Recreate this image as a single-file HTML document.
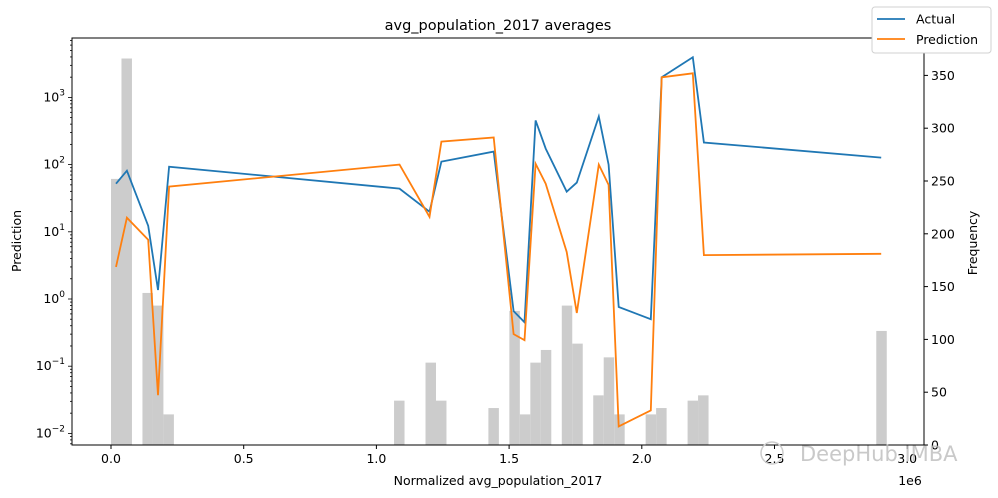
<!DOCTYPE html>
<html><head><meta charset="utf-8">
<style>
html,body{margin:0;padding:0;background:#fff;}
svg{display:block;font-family:"DejaVu Sans","Liberation Sans",sans-serif;}
</style></head>
<body>
<svg id="chart" width="998" height="498" viewBox="0 0 998 498" xmlns="http://www.w3.org/2000/svg">
<rect width="998" height="498" fill="#fff"/>
<text x="498" y="30" font-size="14.5" text-anchor="middle">avg_population_2017 averages</text>
<g id="hist"></g>
<g id="lines"></g>
<g id="axes"></g>
<text x="498" y="485" font-size="12.5" text-anchor="middle">Normalized avg_population_2017</text>
<text x="910" y="485" font-size="12.5" text-anchor="middle">1e6</text>
<text transform="translate(21,241) rotate(-90)" font-size="12.5" text-anchor="middle">Prediction</text>
<text transform="translate(977,243) rotate(-90)" font-size="12.5" text-anchor="middle">Frequency</text>
<text x="800" y="461" font-size="21" fill="#bbb" fill-opacity="0.8">DeepHub IMBA</text>
<circle cx="772" cy="453" r="11" fill="none" stroke="#ccc" stroke-width="1.5"/>
<g>
<rect x="872" y="7" width="119" height="46" rx="3" fill="#fff" stroke="#ccc" stroke-opacity="0.9"/>
<line x1="877" y1="19" x2="905" y2="19" stroke="#1f77b4" stroke-width="1.8"/>
<text x="916" y="23.5" font-size="12.5">Actual</text>
<line x1="877" y1="39" x2="905" y2="39" stroke="#ff7f0e" stroke-width="1.8"/>
<text x="916" y="44" font-size="12.5">Prediction</text>
</g>
</svg>
<script>
// data (x in units of 1e6)
const xs = [0.019,0.060,0.140,0.177,0.219,1.087,1.200,1.245,1.442,1.517,1.558,1.600,1.638,1.717,1.755,1.838,1.875,1.913,2.034,2.075,2.192,2.234,2.902];
const actual = [52,81,12.3,1.36,93,44,19.9,111,156,0.66,0.45,454,173,39.5,54,520,100,0.76,0.50,1990,3950,213,127];
const prediction = [3.0,16.2,7.6,0.037,47,100,16.7,220,253,0.30,0.244,103,52,5.0,0.62,100,50,0.0127,0.022,1990,2280,4.5,4.7];
const binWidth = 0.0395;
const binIndex = [0,1,3,4,5,27,30,31,36,38,39,40,41,43,44,46,47,48,51,52,55,56,73];
const binCounts = [252,366,144,132,29,42,78,42,35,127,29,78,90,132,96,47,83,29,29,35,42,47,108];
const xTicks = [0,0.5,1.0,1.5,2.0,2.5,3.0];
const xTickLabels = ["0.0","0.5","1.0","1.5","2.0","2.5","3.0"];
const yDecades = [-2,-1,0,1,2,3];
const y2Ticks = [0,50,100,150,200,250,300,350];

const L=72,R=924,T=38,B=445;
const X=v=>111+v*265.4;
const Y=v=>299-Math.log10(v)*67.2;
const Y2=c=>445-c*(52.8/50);
const NS='http://www.w3.org/2000/svg';
function mk(tag,attrs,parent){const e=document.createElementNS(NS,tag);for(const k in attrs)e.setAttribute(k,attrs[k]);parent.appendChild(e);return e;}

const hist=document.getElementById('hist');
binIndex.forEach((b,i)=>{
  const x0=X(b*binWidth), x1=X((b+1)*binWidth);
  const r=mk('rect',{x:x0,y:Y2(binCounts[i]),width:x1-x0,height:Y2(0)-Y2(binCounts[i]),fill:'#cccccc'},hist);
  
  
});

const lines=document.getElementById('lines');
function poly(vals,color,name){
  const p=mk('polyline',{points:vals.map((v,i)=>X(xs[i]).toFixed(1)+','+Y(v).toFixed(1)).join(' '),fill:'none',stroke:color,'stroke-width':1.8,'stroke-linejoin':'miter'},lines);
  
  
}
poly(actual,'#1f77b4','actual-line');
poly(prediction,'#ff7f0e','prediction-line');

const ax=document.getElementById('axes');
mk('rect',{x:L,y:T,width:R-L,height:B-T,fill:'none',stroke:'#000','stroke-width':1},ax);
xTicks.forEach((t,i)=>{
  const x=X(t);
  mk('line',{x1:x,y1:B,x2:x,y2:B+4,stroke:'#000'},ax);
  const tx=mk('text',{x:x,y:B+18,'font-size':12.5,'text-anchor':'middle'},ax);
  tx.textContent=xTickLabels[i];
  
  
});
for(let d=-3;d<=3;d++){
  for(let m=1;m<10;m++){
    const v=m*Math.pow(10,d); const y=Y(v);
    if(y<T||y>B) continue;
    mk('line',{x1:L-(m===1?4:2),y1:y,x2:L,y2:y,stroke:'#000','stroke-width':0.8},ax);
  }
}
yDecades.forEach(d=>{
  const y=Y(Math.pow(10,d));
  const tx=mk('text',{x:L-7,y:y+4,'font-size':12.5,'text-anchor':'end'},ax);
  
  
  tx.textContent='10';
  const s=mk('tspan',{dy:-6,'font-size':9},tx);
  s.textContent=String(d).replace('-','\u2212');
});
y2Ticks.forEach(c=>{
  const y=Y2(c);
  mk('line',{x1:R,y1:y,x2:R+4,y2:y,stroke:'#000'},ax);
  const tx=mk('text',{x:R+7,y:y+4.5,'font-size':12.5},ax);
  tx.textContent=String(c);
  
  
});
</script>
</body></html>
